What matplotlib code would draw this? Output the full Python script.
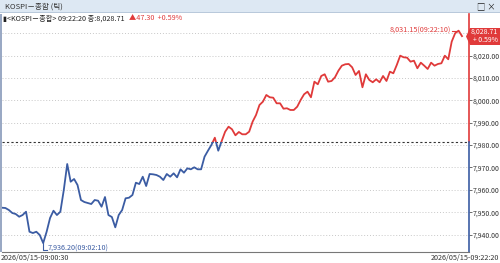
import numpy as np
import matplotlib.pyplot as plt
from matplotlib.patches import Rectangle, Polygon

plt.rcParams['font.family'] = ['Liberation Sans Narrow', 'Noto Sans CJK KR', 'DejaVu Sans']

# KOSPI tick prices, 09:00:30 -> 09:22:20
prices = [7952.00, 7951.86, 7950.97, 7949.63, 7949.18, 7947.97, 7948.73, 7950.21, 7941.26, 7940.68,
          7941.26, 7939.79, 7936.20, 7941.26, 7947.39, 7950.65, 7948.73, 7950.21, 7959.91, 7971.54,
          7963.62, 7964.83, 7962.15, 7955.44, 7954.54, 7954.10, 7953.65, 7955.44, 7955.13, 7952.44,
          7956.78, 7948.73, 7947.84, 7943.23, 7948.73, 7950.97, 7956.20, 7956.47, 7957.68, 7963.18,
          7962.59, 7965.86, 7961.70, 7967.07, 7966.93, 7966.62, 7965.86, 7964.38, 7967.07, 7965.86,
          7967.38, 7965.59, 7969.17, 7967.65, 7969.61, 7969.17, 7970.06, 7969.17, 7969.17, 7974.80,
          7977.49, 7980.04, 7983.30, 7977.49, 7981.82, 7985.98, 7988.22, 7987.06, 7984.37, 7985.85,
          7984.82, 7984.82, 7985.98, 7990.45, 7993.45, 7997.92, 7999.40, 8002.40, 8001.37, 8001.19,
          7998.68, 7998.68, 7996.27, 7996.45, 7995.69, 7995.69, 7997.16, 8000.16, 8002.71, 8003.87,
          8001.37, 8008.34, 8007.18, 8010.89, 8011.65, 8008.34, 8008.66, 8010.31, 8013.26, 8015.50,
          8016.12, 8016.26, 8014.78, 8011.34, 8013.13, 8005.84, 8011.65, 8009.10, 8008.07, 8009.42,
          8008.07, 8010.89, 8008.66, 8012.81, 8012.10, 8015.81, 8019.97, 8019.25, 8019.08, 8017.29,
          8017.73, 8014.34, 8016.84, 8015.50, 8014.02, 8016.84, 8015.50, 8016.26, 8016.57, 8019.97,
          8018.36, 8026.23, 8029.99, 8031.15, 8028.71]
prev_close = 7981.41
yticks = [7940, 7950, 7960, 7970, 7980, 7990, 8000, 8010, 8020, 8030]
start_label = "2026/05/15-09:00:30"
end_label = "2026/05/15-09:22:20"
hi_label = "8,031.15(09:22:10)"
lo_label = "7,936.20(09:02:10)"

BLUE = '#3b5ca3'
RED = '#e03a3a'
FS = 5.2

x = np.arange(len(prices))
n = len(prices)

fig = plt.figure(figsize=(5, 2.63), dpi=100)
W, H = 500, 263
ax = fig.add_axes([2 / W, 11 / H, 467 / W, 238 / H])

ymin, ymax = 7932.2, 8038.6
ax.set_ylim(ymin, ymax)
# first point at x=2px, last at ~462px
px = 460 / (n - 1)
ax.set_xlim(0, 467 / px)

for v in yticks:
    ax.axhline(v, color='#c8c8c8', lw=0.7, ls=(0, (1, 2)), zorder=1)
ax.axhline(prev_close, color='#333333', lw=0.8, ls=(0, (2, 2)), zorder=2)

lo_line, = ax.plot(x, prices, color=BLUE, lw=1.3, zorder=3)
hi_line, = ax.plot(x, prices, color=RED, lw=1.3, zorder=3)
lo_line.set_clip_path(Rectangle((0, ymin), n + 10, prev_close - ymin, transform=ax.transData))
hi_line.set_clip_path(Rectangle((0, prev_close), n + 10, ymax - prev_close, transform=ax.transData))

# high / low annotations
imax = int(np.argmax(prices))
imin = int(np.argmin(prices))
ax.plot([imax - 2, imax], [prices[imax], prices[imax]], color=RED, lw=0.8)
ax.text(imax - 2.1, prices[imax], hi_label, color=RED, fontsize=FS, ha='right', va='center')
ax.plot([imin, imin, imin + 1.2], [prices[imin], prices[imin] - 3, prices[imin] - 3], color=BLUE, lw=0.8)
ax.text(imin + 1.4, prices[imin] - 2.7, lo_label, color=BLUE, fontsize=FS, ha='left', va='center')

# axes styling
for s in ['top', 'left', 'right']:
    ax.spines[s].set_visible(False)
ax.spines['bottom'].set_color('#777777')
ax.spines['bottom'].set_linewidth(0.8)
ax.set_xticks([])
ax.yaxis.tick_right()
ax.set_yticks(yticks[:-1])
ax.set_yticklabels([f"{v:,.2f}" for v in yticks[:-1]])
ax.tick_params(axis='y', length=2.2, width=0.6, color='#555555', labelsize=5.0, labelcolor='#333333', pad=0.3)
ax.plot([1, 1], [prev_close, ymax], transform=ax.get_yaxis_transform(), color=RED, lw=1.2, clip_on=False)
ax.plot([1, 1], [ymin, prev_close], transform=ax.get_yaxis_transform(), color=BLUE, lw=1.2, clip_on=False)

# left border
fig.add_artist(Rectangle((0, 11 / H), 1.5 / W, 238 / H, transform=fig.transFigure, color='#9aa9c4', lw=0))

# title bar
fig.add_artist(Rectangle((0, 1 - 12 / H), 1, 12 / H, transform=fig.transFigure, color='#dde8f3', lw=0))
fig.add_artist(Rectangle((0, 1 - 13 / H), 1, 1 / H, transform=fig.transFigure, color='#b9c9db', lw=0))
fig.text(5 / W, 1 - 6.5 / H, "KOSPI－종합 (틱)", fontsize=5.5, color='#333333', va='center')
fig.text(496 / W, 1 - 6.5 / H, "□ ×", fontsize=6, color='#222222', va='center', ha='right')

# header line
head = fig.text(3 / W, 1 - 18.5 / H, "▮<KOSPI－종합> 09:22:20 종:8,028.71", fontsize=FS,
                color='#222222', va='center')
ax.annotate("▲47.30  +0.59%", xy=(1, 0.5), xycoords=head, xytext=(3, 0), textcoords='offset points',
            fontsize=FS, color=RED, va='center', ha='left', annotation_clip=False)

# current price box
last = prices[-1]
fig.add_artist(Polygon([(466 / W, 1 - 36.5 / H), (470 / W, 1 - 28 / H), (1, 1 - 28 / H),
                        (1, 1 - 45 / H), (470 / W, 1 - 45 / H)], closed=True,
                       transform=fig.transFigure, color=RED, lw=0))
fig.text(471 / W, 1 - 32 / H, f"{last:,.2f}", fontsize=5.0, color='white', va='center')
fig.text(473 / W, 1 - 40.5 / H, "+ 0.59%", fontsize=5.0, color='white', va='center')

# date labels
fig.text(1 / W, 5 / H, start_label, fontsize=FS, color='#333333', va='center')
fig.text(0.998, 5 / H, end_label, fontsize=FS, color='#333333', va='center', ha='right')

fig.savefig('out.png', dpi=100)
